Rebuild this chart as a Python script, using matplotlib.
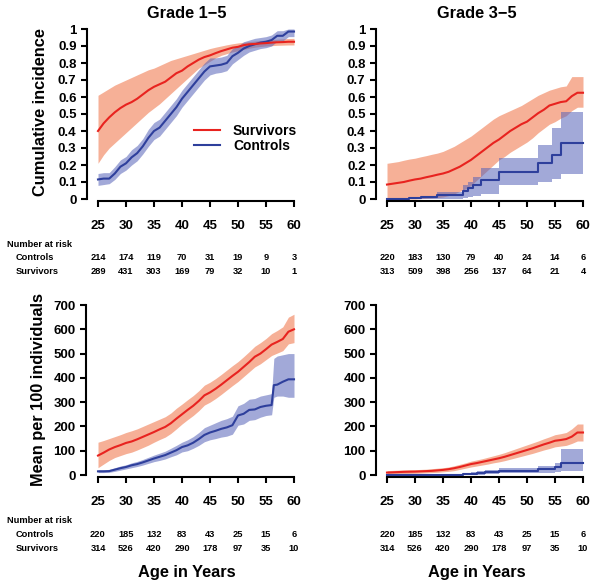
import numpy as np
import matplotlib
matplotlib.use("Agg")
import matplotlib.pyplot as plt
from matplotlib.lines import Line2D
from matplotlib.transforms import blended_transform_factory

plt.rcParams['font.family'] = ['Liberation Sans', 'DejaVu Sans']
plt.rcParams['font.weight'] = 'bold'

# ---------------- data ----------------
ages = list(range(25, 61))

# Panel A: Grade 1-5 cumulative incidence
a_surv = [.40, .445, .48, .51, .535, .555, .57, .59, .615, .64, .66, .675, .69, .715, .74, .755,
          .78, .80, .82, .835, .845, .858, .87, .88, .89, .895, .905, .91, .912, .915, .917, .92,
          .922, .923, .925, .925]
a_surv_lo = [.21, .26, .30, .33, .36, .39, .42, .45, .48, .51, .535, .56, .59, .62, .65, .68, .71,
             .74, .77, .79, .81, .83, .845, .855, .865, .872, .88, .887, .893, .897, .90, .902,
             .904, .905, .906, .906]
a_surv_hi = [.61, .63, .65, .67, .685, .70, .715, .73, .745, .76, .77, .785, .80, .815, .825, .835,
             .845, .855, .865, .875, .885, .893, .90, .907, .913, .918, .922, .926, .929, .932,
             .935, .937, .94, .942, .944, .945]
a_ctrl = [.115, .12, .12, .15, .19, .21, .245, .27, .31, .36, .40, .42, .46, .50, .54, .59, .63, .67,
          .71, .75, .78, .785, .79, .80, .84, .86, .885, .90, .91, .92, .925, .935, .96, .96, .985, .985]
a_ctrl_lo = [.08, .085, .09, .115, .15, .17, .20, .225, .265, .31, .35, .37, .41, .45, .49, .54, .58,
             .62, .66, .70, .73, .74, .745, .755, .795, .82, .845, .865, .875, .885, .89, .90, .93,
             .93, .955, .955]
a_ctrl_hi = [.15, .155, .155, .19, .23, .25, .29, .315, .355, .41, .45, .47, .51, .55, .59, .64, .68,
             .72, .76, .80, .83, .83, .835, .845, .885, .90, .925, .935, .945, .95, .955, .965, .99,
             .99, 1.0, 1.0]

# Panel B: Grade 3-5 cumulative incidence
b_surv = [.085, .09, .095, .10, .108, .115, .12, .128, .135, .143, .15, .16, .175, .19, .21, .23,
          .255, .28, .305, .33, .35, .375, .40, .42, .44, .455, .48, .505, .525, .55, .56, .57,
          .575, .605, .625, .625]
b_surv_lo = [0, 0, 0, 0, 0, 0, .002, .004, .006, .008, .012, .02, .03, .045, .06, .08, .11, .14, .17,
             .20, .23, .25, .275, .295, .315, .335, .36, .39, .415, .44, .455, .475, .49, .52, .54, .54]
b_surv_hi = [.21, .215, .22, .228, .235, .24, .248, .255, .263, .27, .28, .295, .31, .33, .35, .37,
             .395, .42, .445, .47, .49, .505, .52, .535, .55, .57, .59, .61, .625, .64, .65, .66,
             .665, .72, .72, .72]
b_ctrl_ages = [25, 29, 31, 34, 38.5, 39.5, 40.3, 41.8, 45, 52, 54.5, 56, 60]
b_ctrl = [0, .005, .01, .024, .05, .065, .08, .11, .16, .21, .26, .33, .33]
b_ctrl_lo = [0, 0, 0, 0, .005, .01, .02, .03, .085, .10, .12, .15, .15]
b_ctrl_hi = [0, .01, .02, .04, .08, .10, .13, .18, .24, .32, .42, .51, .51]

# Panel C: Grade 1-5 mean per 100 individuals
c_surv = [80, 92, 105, 115, 123, 132, 138, 147, 157, 167, 177, 188, 198, 213, 232, 250, 268, 285,
          305, 328, 340, 355, 372, 390, 408, 425, 445, 465, 487, 500, 518, 537, 548, 560, 590, 600]
c_surv_lo = [30, 45, 60, 72, 80, 88, 94, 103, 113, 123, 135, 146, 156, 171, 190, 210, 228, 245,
             265, 288, 300, 315, 332, 350, 368, 385, 405, 425, 445, 458, 475, 492, 502, 512, 540, 545]
c_surv_hi = [135, 142, 150, 158, 166, 175, 182, 190, 200, 210, 220, 230, 240, 255, 275, 292, 310,
             327, 347, 370, 382, 397, 414, 432, 450, 467, 487, 508, 530, 545, 562, 582, 595, 610,
             650, 662]
c_ctrl_ages = [25, 26, 27, 28, 29, 30, 31, 32, 33, 34, 35, 36, 37, 38, 39, 40, 41, 42, 43, 44, 45,
               46, 47, 48, 49, 50, 51, 52, 53, 54, 55, 56, 56.4, 57, 58, 59, 60]
c_ctrl = [15, 15, 16, 22, 28, 33, 40, 45, 52, 60, 68, 75, 82, 92, 102, 115, 122, 133, 148, 165,
          175, 182, 190, 196, 205, 245, 252, 268, 270, 280, 285, 288, 370, 372, 384, 394, 394]
c_ctrl_lo = [10, 10, 11, 15, 20, 25, 30, 35, 41, 48, 55, 60, 66, 75, 83, 95, 100, 110, 122, 137,
             145, 150, 156, 160, 168, 205, 210, 225, 228, 238, 245, 248, 320, 325, 325, 320, 320]
c_ctrl_hi = [22, 22, 23, 30, 37, 42, 50, 56, 64, 73, 82, 90, 98, 110, 122, 135, 145, 158, 175, 195,
             205, 215, 225, 232, 242, 285, 295, 312, 315, 325, 330, 335, 480, 490, 495, 500, 500]

# Panel D: Grade 3-5 mean per 100 individuals
d_surv = [10, 11, 12, 13, 13.5, 14, 15, 16, 17, 19, 21, 24, 28, 33, 39, 45, 49, 54, 59, 64, 69,
          75, 82, 89, 96, 103, 110, 118, 126, 133, 141, 144, 148, 158, 175, 175]
d_surv_lo = [3, 4, 5, 6, 6.5, 7, 8, 9, 10, 11, 13, 15, 18, 23, 28, 33, 37, 41, 45, 50, 54, 59, 65,
             71, 77, 83, 89, 96, 103, 109, 116, 119, 122, 130, 140, 140]
d_surv_hi = [18, 19, 20, 21, 22, 22, 23, 24, 26, 28, 30, 33, 38, 44, 50, 57, 62, 67, 73, 79, 85,
             92, 100, 108, 116, 124, 132, 140, 149, 157, 166, 170, 175, 190, 210, 210]
d_ctrl_ages = [25, 37, 38.5, 40, 41, 42.5, 45, 52, 55, 56, 60]
d_ctrl = [0, 1, 3, 6, 9, 12, 16, 24, 32, 51, 51]
d_ctrl_lo = [0, 0, 0, 1, 2, 4, 7, 10, 14, 15, 15]
d_ctrl_hi = [0, 3, 7, 11, 15, 20, 28, 37, 48, 106, 106]

x_ticks = [25, 30, 35, 40, 45, 50, 55, 60]
risk_ctrl_top_l = [214, 174, 119, 70, 31, 19, 9, 3]
risk_surv_top_l = [289, 431, 303, 169, 79, 32, 10, 1]
risk_ctrl_top_r = [220, 183, 130, 79, 40, 24, 14, 6]
risk_surv_top_r = [313, 509, 398, 256, 137, 64, 21, 4]
risk_ctrl_bot = [220, 185, 132, 83, 43, 25, 15, 6]
risk_surv_bot = [314, 526, 420, 290, 178, 97, 35, 10]

titles = ["Grade 1\u22125", "Grade 3\u22125"]

# ---------------- style ----------------
RED = "#E8231F"
RED_BAND = "#F5A88C"
BLUE = "#2E3F9C"
BLUE_BAND = "#5763B8"

W, H = 600, 585
fig = plt.figure(figsize=(6, 5.85), dpi=100)


def px_axes(left, right, bottom, top):
    return fig.add_axes([left / W, 1 - bottom / H, (right - left) / W, (bottom - top) / H])


def fx(x):
    return x / W


def fy(y):
    return 1 - y / H


def style(ax, ymax, yticks, ylabels):
    for s in ['top', 'right']:
        ax.spines[s].set_visible(False)
    ax.spines['left'].set_bounds(0, ymax)
    ax.spines['bottom'].set_bounds(25, 60)
    for s in ['left', 'bottom']:
        ax.spines[s].set_linewidth(1.5)
    ax.set_xticks(x_ticks)
    ax.set_xticklabels([str(t) for t in x_ticks], fontsize=9.5, fontweight='bold')
    ax.set_yticks(yticks)
    ax.set_yticklabels(ylabels, fontsize=9.5, fontweight='bold')
    ax.tick_params(axis='x', length=4.5, width=1.5, pad=9)
    ax.tick_params(axis='y', length=4.5, width=1.5, pad=3)


def series(ax, x, m, lo, hi, color, band, alpha, stepped):
    if stepped:
        ax.fill_between(x, lo, hi, step='post', color=band, alpha=alpha, lw=0)
        return lambda: ax.step(x, m, where='post', color=color, lw=1.5)
    ax.fill_between(x, lo, hi, color=band, alpha=alpha, lw=0)
    return lambda: ax.plot(x, m, color=color, lw=1.5)


def draw(ax, surv, ctrl, ctrl_stepped):
    f1 = series(ax, *surv, RED, RED_BAND, 0.9, False)
    f2 = series(ax, *ctrl, BLUE, BLUE_BAND, 0.55, ctrl_stepped)
    f2()
    f1()


px_per_yr = 5.6
# top-left
axA = px_axes(87, 300, 201, 22)
axA.set_xlim(25 - 11 / px_per_yr, 25 + 202 / px_per_yr)
axA.set_ylim(-2 / 170, 1 + 7 / 170)
draw(axA, (ages, a_surv, a_surv_lo, a_surv_hi), (ages, a_ctrl, a_ctrl_lo, a_ctrl_hi), False)
cum_ticks = [i / 10 for i in range(11)]
cum_labels = ['0'] + ['0.%d' % i for i in range(1, 10)] + ['1']
style(axA, 1, cum_ticks, cum_labels)

# top-right
axB = px_axes(376, 589, 201, 22)
axB.set_xlim(25 - 11 / px_per_yr, 25 + 202 / px_per_yr)
axB.set_ylim(-2 / 170, 1 + 7 / 170)
draw(axB, (ages, b_surv, b_surv_lo, b_surv_hi), (b_ctrl_ages, b_ctrl, b_ctrl_lo, b_ctrl_hi), True)
style(axB, 1, cum_ticks, cum_labels)

mean_ticks = list(range(0, 701, 100))
mean_labels = [str(t) for t in mean_ticks]
sc = 170 / 700
# bottom-left
axC = px_axes(86, 300, 477, 298)
axC.set_xlim(25 - 12 / px_per_yr, 25 + 202 / px_per_yr)
axC.set_ylim(-2 / sc, 700 + 7 / sc)
draw(axC, (ages, c_surv, c_surv_lo, c_surv_hi), (c_ctrl_ages, c_ctrl, c_ctrl_lo, c_ctrl_hi), False)
style(axC, 700, mean_ticks, mean_labels)

# bottom-right
axD = px_axes(376, 589, 477, 298)
axD.set_xlim(25 - 11 / px_per_yr, 25 + 202 / px_per_yr)
axD.set_ylim(-2 / sc, 700 + 7 / sc)
draw(axD, (ages, d_surv, d_surv_lo, d_surv_hi), (d_ctrl_ages, d_ctrl, d_ctrl_lo, d_ctrl_hi), True)
style(axD, 700, mean_ticks, mean_labels)

# titles
fig.text(fx(187), fy(18), titles[0], ha='center', va='baseline', fontsize=11.8, fontweight='bold')
fig.text(fx(477), fy(18), titles[1], ha='center', va='baseline', fontsize=11.8, fontweight='bold')

# y labels
fig.text(fx(45), fy(112), "Cumulative incidence", rotation=90, rotation_mode='anchor',
         ha='center', va='baseline', fontsize=11.8, fontweight='bold')
fig.text(fx(43), fy(390), "Mean per 100 individuals", rotation=90, rotation_mode='anchor',
         ha='center', va='baseline', fontsize=11.8, fontweight='bold')

# x labels
fig.text(fx(187), fy(577), "Age in Years", ha='center', va='baseline', fontsize=11.8, fontweight='bold')
fig.text(fx(477), fy(577), "Age in Years", ha='center', va='baseline', fontsize=11.8, fontweight='bold')

# legend
handles = [Line2D([], [], color=RED, lw=1.5), Line2D([], [], color=BLUE, lw=1.5)]
axA.legend(handles, ["Survivors", "Controls"], loc='center left',
           bbox_to_anchor=(fx(194), fy(138.5)), bbox_transform=fig.transFigure,
           frameon=False, borderpad=0, borderaxespad=0, handlelength=1.87,
           handletextpad=0.93, labelspacing=0.1, prop={'size': 10, 'weight': 'bold'})

# number at risk tables
RS = 6.7


def risk_table(ax, ctrl, surv, y_head, y_c, y_s, labels):
    tr = blended_transform_factory(ax.transData, fig.transFigure)
    for t, c, s in zip(x_ticks, ctrl, surv):
        ax.text(t, fy(y_c), str(c), transform=tr, ha='center', va='baseline',
                fontsize=RS, fontweight='bold', clip_on=False)
        ax.text(t, fy(y_s), str(s), transform=tr, ha='center', va='baseline',
                fontsize=RS, fontweight='bold', clip_on=False)
    if labels:
        fig.text(fx(7), fy(y_head), "Number at risk", ha='left', va='baseline', fontsize=RS, fontweight='bold')
        fig.text(fx(16), fy(y_c), "Controls", ha='left', va='baseline', fontsize=RS, fontweight='bold')
        fig.text(fx(16), fy(y_s), "Survivors", ha='left', va='baseline', fontsize=RS, fontweight='bold')


risk_table(axA, risk_ctrl_top_l, risk_surv_top_l, 246.5, 260, 274, True)
risk_table(axB, risk_ctrl_top_r, risk_surv_top_r, 246.5, 260, 274, False)
risk_table(axC, risk_ctrl_bot, risk_surv_bot, 523.3, 536.7, 550.7, True)
risk_table(axD, risk_ctrl_bot, risk_surv_bot, 523.3, 536.7, 550.7, False)

fig.savefig("out.png", dpi=100)
